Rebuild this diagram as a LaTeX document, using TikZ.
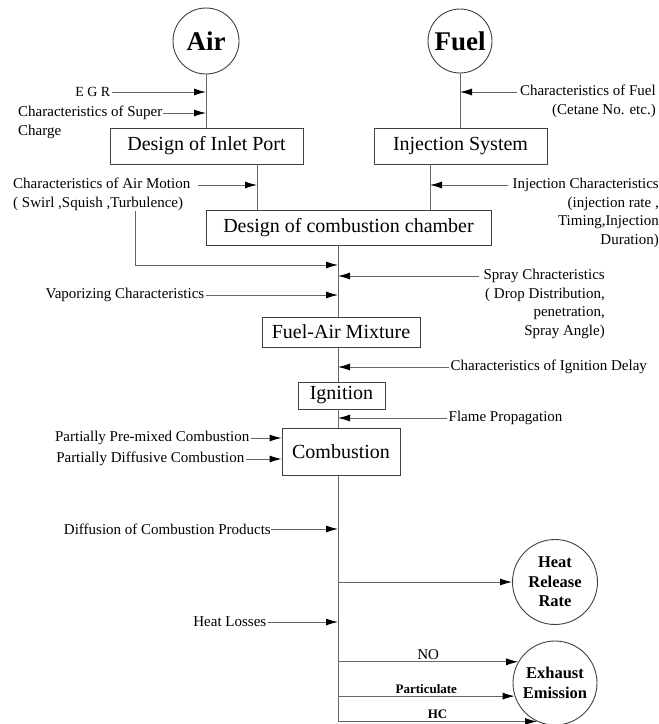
\documentclass[tikz,border=0pt]{standalone}
\usepackage{fontspec}
\setmainfont{Liberation Serif}
\usetikzlibrary{arrows.meta}

\begin{document}
\begin{tikzpicture}[x=1pt, y=-1pt,
    line/.style={draw=black!60, line width=0.9pt},
    feed/.style={line, -{Latex[length=12pt,width=7pt,color=black]}},
    box/.style={draw=black!75, line width=0.9pt, rectangle, inner sep=0pt,
                font=\fontsize{20}{24}\selectfont},
    src/.style={draw=black!75, line width=0.9pt, circle, inner sep=0pt,
                font=\bfseries\fontsize{27}{30}\selectfont},
    sink/.style={draw=black!75, line width=0.9pt, circle, inner sep=0pt,
                 minimum size=85pt, align=center,
                 font=\bfseries\fontsize{16.5}{19.5}\selectfont},
    lbl/.style={inner sep=1.5pt, font=\fontsize{15}{18.5}\selectfont},
    tag/.style={inner sep=2pt, font=\bfseries\fontsize{13}{15}\selectfont}]

\useasboundingbox (0,0) rectangle (659,724);

% columns
\coordinate (ax) at (257,0);
\coordinate (fx) at (430,0);
\coordinate (main) at (338,0);

% sources
\node[src, minimum size=66pt] (air) at (206,41) {Air};
\node[src, minimum size=64pt] (fuel) at (460,41) {Fuel};

% stages
\node[box, minimum width=193pt, minimum height=36pt] (inlet) at (206.5,146) {Design of Inlet Port};
\node[box, minimum width=173pt, minimum height=36pt] (injsys) at (460.5,146) {Injection System};
\node[box, minimum width=285pt, minimum height=35pt] (chamber) at (348.5,227.5) {Design of combustion chamber};
\node[box, minimum width=158pt, minimum height=30pt] (mixture) at (341,332) {Fuel-Air Mixture};
\node[box, minimum width=87pt, minimum height=27pt] (ignition) at (341.5,395.5) {Ignition};
\node[box, minimum width=118pt, minimum height=47pt] (combustion) at (341,451.5) {Combustion};

% results
\node[sink] (heat) at (555,582) {Heat\\Release\\Rate};
\node[sink, minimum size=84pt] (exhaust) at (555,683) {Exhaust\\Emission};

% influences
\node[lbl, anchor=east, font=\fontsize{14}{16}\selectfont] (egr) at (112,92) {E G R};
\node[lbl, anchor=north west, align=left, inner sep=0pt] (super) at (18,106) {Characteristics of Super\\Charge};
\node[lbl, anchor=north east, align=right, inner sep=0pt] (fuelch) at (656,85) {Characteristics of Fuel\\(Cetane No. etc.)};
\node[lbl, anchor=north west, align=left, inner sep=0pt] (airmot) at (13,178) {Characteristics of Air Motion\\( Swirl ,Squish ,Turbulence)};
\node[lbl, anchor=north east, align=right, inner sep=0pt] (injch) at (659,178) {Injection Characteristics\\(injection rate ,\\Timing,Injection\\Duration)};
\node[lbl, anchor=north east, align=right, inner sep=0pt] (spray) at (605,269) {Spray Chracteristics\\( Drop Distribution,\\penetration,\\Spray Angle)};
\node[lbl, anchor=east] (vapor) at (206,295) {Vaporizing Characteristics};
\node[lbl, anchor=west] (igdelay) at (449,367) {Characteristics of Ignition Delay};
\node[lbl, anchor=west] (flame) at (447,418) {Flame Propagation};
\node[lbl, anchor=east] (premix) at (251,438) {Partially Pre-mixed Combustion};
\node[lbl, anchor=east] (diffus) at (246,459) {Partially Diffusive Combustion};
\node[lbl, anchor=east, inner sep=0pt] (products) at (271,529) {Diffusion of Combustion Products};
\node[lbl, anchor=east] (losses) at (268,622) {Heat Losses};

% air side
\draw[line] (air) -- (inlet.north -| air);
\draw[feed] (egr.east) -- (egr.east -| air);
\draw[feed] ([yshift=-7pt]super.north east) -- ([yshift=-7pt]super.north east -| air);
\draw[line] (inlet.south -| ax) -- (chamber.north -| ax);
\draw[feed] ([xshift=8pt,yshift=-7pt]airmot.north east) -- ([yshift=-7pt]airmot.north east -| ax);

% fuel side
\draw[line] (fuel) -- (injsys.north -| fuel);
\draw[feed] ([xshift=-3pt,yshift=-7pt]fuelch.north west) -- ([yshift=-7pt]fuelch.north west -| fuel);
\draw[line] (injsys.south -| fx) -- (chamber.north -| fx);
\draw[feed] ([xshift=-4pt,yshift=-7pt]injch.north west) -- ([yshift=-7pt]injch.north west -| fx);

% main line
\coordinate (turn) at (135,265);
\draw[line] (chamber.south -| main) -- (mixture.north -| main);
\draw[line] (mixture.south -| main) -- (ignition.north -| main);
\draw[line] (ignition.south -| main) -- (combustion.north -| main);
\draw[line] (combustion.south -| main) -- (exhaust.245 -| main);
\draw[feed] (airmot.south -| turn) -- (turn) -- (turn -| main);
\draw[feed] ([xshift=-4pt,yshift=-7pt]spray.north west) -- ([yshift=-7pt]spray.north west -| main);
\draw[feed] (vapor.east) -- (vapor.east -| main);
\draw[feed] (igdelay.west) -- (igdelay.west -| main);
\draw[feed] (flame.west) -- (flame.west -| main);
\draw[feed] (premix.east) -- (premix.east -| combustion.west);
\draw[feed] (diffus.east) -- (diffus.east -| combustion.west);
\draw[feed] (products.east) -- (products.east -| main);
\draw[feed] (losses.east) -- (losses.east -| main);

% outputs
\draw[feed] (heat.west -| main) -- (heat.west);
\draw[feed] (exhaust.150 -| main) -- node[midway, above, lbl] {NO} (exhaust.150);
\draw[feed] (exhaust.198 -| main) -- node[midway, above, tag] {Particulate} (exhaust.198);
\draw[feed] (exhaust.245 -| main) -- node[midway, above, tag] {HC} (exhaust.245);
\end{tikzpicture}
\end{document}
